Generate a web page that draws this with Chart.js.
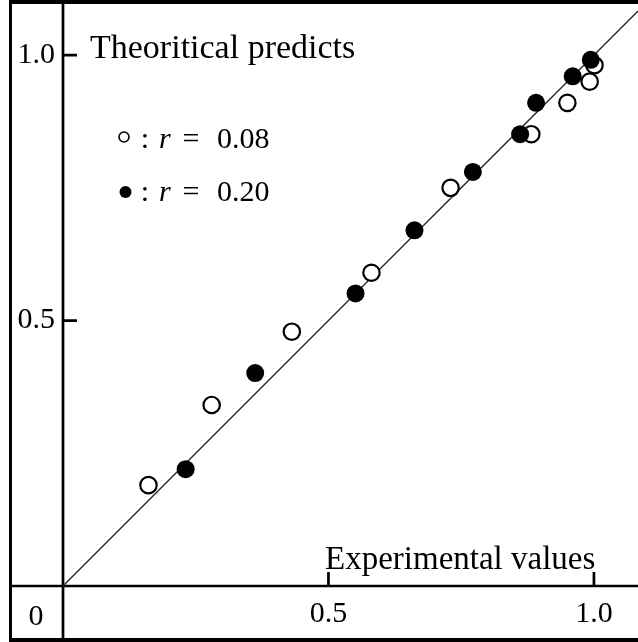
<!DOCTYPE html>
<html>
<head>
<meta charset="utf-8">
<script src="https://cdn.jsdelivr.net/npm/chart.js@4/dist/chart.umd.min.js"></script>
<style>
  html, body { margin: 0; padding: 0; background: #fff; }
  canvas { display: block; }
</style>
</head>
<body>
<canvas id="c" width="638" height="642"></canvas>
<script>
// Experimental values vs theoretical predictions, two values of r
const openX   = [0.161, 0.280, 0.431, 0.581, 0.730, 0.882, 0.950, 0.992, 1.001];
const openY   = [0.190, 0.341, 0.479, 0.590, 0.750, 0.851, 0.910, 0.950, 0.981];
const filledX = [0.231, 0.362, 0.551, 0.662, 0.772, 0.861, 0.891, 0.960, 0.994];
const filledY = [0.220, 0.401, 0.551, 0.670, 0.780, 0.851, 0.910, 0.960, 0.991];
// reference line y = x
const diagX = [0, 1.083];
const diagY = [0, 1.083];
const xTicks = [0.5, 1.0];
const yTicks = [0.5, 1.0];
const openLabel = '0.08';
const filledLabel = '0.20';
const xTitle = 'Experimental values';
const yTitle = 'Theoritical predicts';

const FONT = "'Liberation Serif', 'Times New Roman', serif";

const toPoints = (xs, ys) => xs.map((v, i) => ({ x: v, y: ys[i] }));

const framePlugin = {
  id: 'frame',
  beforeDatasetsDraw(chart) {
    const { ctx, scales: { x, y } } = chart;
    const x0 = x.getPixelForValue(0);
    const y0 = y.getPixelForValue(0);
    const W = chart.width, H = chart.height;
    ctx.save();
    ctx.strokeStyle = '#000';
    ctx.lineCap = 'butt';
    // outer box (open on the right)
    ctx.lineWidth = 4;
    ctx.beginPath();
    ctx.moveTo(9, 2); ctx.lineTo(W, 2);
    ctx.moveTo(9, H - 2); ctx.lineTo(W, H - 2);
    ctx.stroke();
    ctx.lineWidth = 3;
    ctx.beginPath();
    ctx.moveTo(10.5, 0); ctx.lineTo(10.5, H);
    ctx.stroke();
    // axes through the origin, running across the label strips
    ctx.lineWidth = 2.7;
    ctx.beginPath();
    ctx.moveTo(x0, 0); ctx.lineTo(x0, H);
    ctx.moveTo(10, y0); ctx.lineTo(W, y0);
    ctx.stroke();
    // inward tick marks
    ctx.beginPath();
    yTicks.forEach(v => {
      const p = y.getPixelForValue(v);
      ctx.moveTo(x0, p); ctx.lineTo(x0 + 14, p);
    });
    xTicks.forEach(v => {
      const p = x.getPixelForValue(v);
      ctx.moveTo(p, y0); ctx.lineTo(p, y0 - 14);
    });
    ctx.stroke();
    ctx.restore();
  },
  afterDraw(chart) {
    const { ctx } = chart;
    ctx.save();
    ctx.fillStyle = '#000';
    ctx.strokeStyle = '#000';
    ctx.textBaseline = 'alphabetic';
    // shared origin label
    ctx.font = `30px ${FONT}`;
    ctx.textAlign = 'center';
    ctx.fillText('0', 36, 625);
    // axis titles
    ctx.textAlign = 'left';
    ctx.font = `34px ${FONT}`;
    ctx.fillText(yTitle, 90, 58);
    ctx.font = `33px ${FONT}`;
    ctx.fillText(xTitle, 325, 569);
    // legend
    const rows = [
      { filled: false, label: openLabel, cy: 137, base: 148 },
      { filled: true, label: filledLabel, cy: 192, base: 201 }
    ];
    rows.forEach(r => {
      ctx.beginPath();
      if (r.filled) {
        ctx.arc(125.5, r.cy, 6, 0, Math.PI * 2);
        ctx.fill();
      } else {
        ctx.lineWidth = 1.6;
        ctx.arc(124, r.cy, 5, 0, Math.PI * 2);
        ctx.stroke();
      }
      ctx.textAlign = 'center';
      ctx.font = `30px ${FONT}`;
      ctx.fillText(':', 145, r.base);
      ctx.textAlign = 'left';
      ctx.font = `italic 30px ${FONT}`;
      ctx.fillText('r', 159, r.base);
      ctx.textAlign = 'center';
      ctx.font = `30px ${FONT}`;
      ctx.fillText('=', 191, r.base);
      ctx.textAlign = 'left';
      ctx.fillText(r.label, 217, r.base);
    });
    ctx.restore();
  }
};

new Chart(document.getElementById('c'), {
  type: 'scatter',
  data: {
    datasets: [
      {
        label: 'r = 0.20',
        data: toPoints(filledX, filledY),
        pointStyle: 'circle',
        pointRadius: 9,
        backgroundColor: '#000',
        borderColor: '#000',
        borderWidth: 0,
        order: 1
      },
      {
        label: 'r = 0.08',
        data: toPoints(openX, openY),
        pointStyle: 'circle',
        pointRadius: 8.2,
        backgroundColor: '#fff',
        borderColor: '#000',
        borderWidth: 2.2,
        order: 2
      },
      {
        type: 'line',
        label: 'y = x',
        data: toPoints(diagX, diagY),
        borderColor: '#222',
        borderWidth: 1.3,
        pointRadius: 0,
        fill: false,
        order: 3
      }
    ]
  },
  options: {
    responsive: false,
    animation: false,
    events: [],
    layout: { autoPadding: false, padding: { top: 2, right: 0, bottom: 0, left: 0 } },
    plugins: { legend: { display: false }, tooltip: { enabled: false } },
    scales: {
      x: {
        type: 'linear',
        min: 0,
        max: 1.083,
        grid: { display: false, drawTicks: false },
        border: { display: false },
        afterFit(s) {
          s.height = 56;
          s.paddingLeft = 0; s.paddingRight = 0;
          s.paddingTop = 0; s.paddingBottom = 0;
        },
        afterBuildTicks(s) { s.ticks = xTicks.map(v => ({ value: v })); },
        ticks: {
          padding: 10,
          color: '#000',
          font: { family: FONT, size: 30 },
          maxRotation: 0,
          callback: v => v.toFixed(1)
        }
      },
      y: {
        type: 'linear',
        min: 0,
        max: 1.1,
        grid: { display: false, drawTicks: false },
        border: { display: false },
        afterFit(s) {
          s.width = 63;
          s.paddingLeft = 0; s.paddingRight = 0;
          s.paddingTop = 0; s.paddingBottom = 0;
        },
        afterBuildTicks(s) { s.ticks = yTicks.map(v => ({ value: v })); },
        ticks: {
          padding: 8,
          color: '#000',
          font: { family: FONT, size: 30 },
          callback: v => v.toFixed(1)
        }
      }
    }
  },
  plugins: [framePlugin]
});
</script>
</body>
</html>
